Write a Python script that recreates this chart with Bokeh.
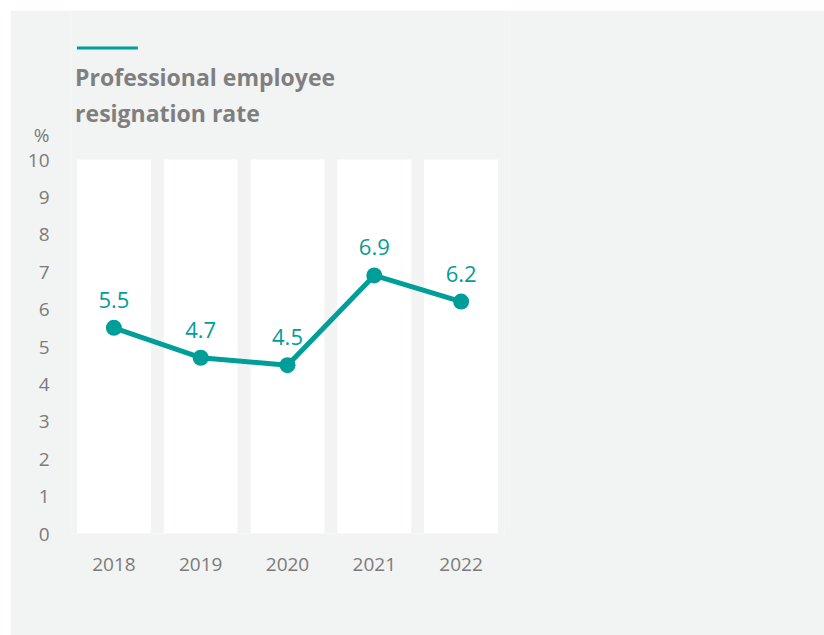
from bokeh.plotting import figure
from bokeh.models import FixedTicker, Range1d, FactorRange, Label, BoxAnnotation
from bokeh.core.properties import value
from bokeh.embed import file_html
from bokeh.resources import INLINE

# ---- data ----
years = ["2018", "2019", "2020", "2021", "2022"]
rates = [5.5, 4.7, 4.5, 6.9, 6.2]
rate_labels = ["5.5", "4.7", "4.5", "6.9", "6.2"]
y_ticks = [0, 1, 2, 3, 4, 5, 6, 7, 8, 9, 10]
title_lines = ["Professional employee", "resignation rate"]
unit_label = "%"

# ---- style ----
BG = "#f2f3f3"
TEAL = "#009e98"
GRAY = "#7b7b7b"
TITLE_GRAY = "#7f7f7f"
FONT = "Open Sans"
Y_MAX = y_ticks[-1]
Y_TOP = Y_MAX * 523 / 374      # frame extends up to hold the heading
UNIT_POS = 10.65               # where the unit label sits on the y axis

p = figure(width=814, height=625, x_range=FactorRange(*years, range_padding=0),
           y_range=Range1d(0, Y_TOP), output_backend="svg", toolbar_location=None,
           min_border_left=60, min_border_right=320, min_border_top=0,
           min_border_bottom=102)
p.margin = (10, 0, 0, 10)
p.background_fill_color = BG
p.border_fill_color = BG
p.outline_line_color = None
p.grid.visible = False

# white background columns spanning 0..10
p.vbar(x=years, top=[Y_MAX] * len(years), bottom=0, width=0.85,
       fill_color="white", line_color=None)

p.line(x=years, y=rates, line_color=TEAL, line_width=5)
p.scatter(x=years, y=rates, size=16, fill_color=TEAL, line_color=None)
p.text(x=years, y=rates, text=rate_labels, y_offset=-28,
       text_font=value(FONT), text_font_size="22px", text_color=TEAL,
       text_align="center", text_baseline="alphabetic")

for ax in (p.xaxis[0], p.yaxis[0]):
    ax.axis_line_color = None
    ax.major_tick_line_color = None
    ax.minor_tick_line_color = None
    ax.major_tick_out = 0
    ax.major_tick_in = 0
    ax.major_label_text_font = FONT
    ax.major_label_text_color = GRAY
    ax.major_label_text_font_size = "19px"

p.yaxis[0].ticker = FixedTicker(ticks=y_ticks + [UNIT_POS])
p.yaxis[0].major_label_overrides = {UNIT_POS: unit_label}
p.yaxis[0].major_label_standoff = 21
p.xaxis[0].major_label_standoff = 24

# heading: accent line and two title lines
p.add_layout(BoxAnnotation(left=0.074, right=0.776, bottom=12.94, top=13.02,
                           fill_color=TEAL, fill_alpha=1.0, line_color=None))
for line_text, off in zip(title_lines, (83, 47)):
    p.add_layout(Label(x=0, y=Y_MAX, x_offset=4.6, y_offset=off, text=line_text,
                       text_font=FONT, text_font_style="bold",
                       text_font_size="23px", text_color=TITLE_GRAY,
                       text_align="left", text_baseline="alphabetic"))

open("out.html", "w").write(file_html(p, INLINE))
